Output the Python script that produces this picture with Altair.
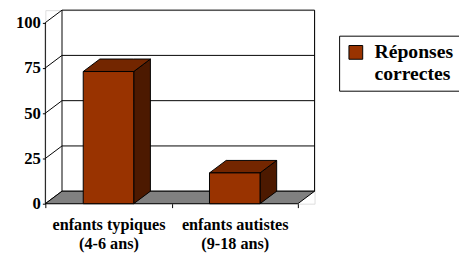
import json
import altair as alt
import pandas as pd

# ---- data ----
cat_line1 = ["enfants typiques", "enfants autistes"]
cat_line2 = ["(4-6 ans)", "(9-18 ans)"]
values = [73, 17]
series_name = "Réponses correctes"
y_ticks = [0, 25, 50, 75, 100]

# ---- 3D geometry constants (style) ----
DX = 0.132      # depth offset in category units
DY = 6.9        # depth offset in value units
BAR_W = 0.4
N = len(values)
XMAX = N + DX
YMAX = 100 + DY

FRONT = "#993300"
TOP = "#732600"
SIDE = "#4c1900"
FONT = "Liberation Serif, DejaVu Serif"

xs = alt.Scale(domain=[0, XMAX], nice=False, zero=False)
ys = alt.Scale(domain=[0, YMAX], nice=False, zero=False)

front = pd.DataFrame({
    "xl": [i + 0.5 - BAR_W / 2 for i in range(N)],
    "xr": [i + 0.5 + BAR_W / 2 for i in range(N)],
    "y0": [0] * N,
    "v": values,
    "series": [series_name] * N,
})

side_rows, top_rows = [], []
for i, v in enumerate(values):
    xl = i + 0.5 - BAR_W / 2
    xr = i + 0.5 + BAR_W / 2
    side_rows += [{"k": i, "x": xr, "y": 0, "y2": v},
                  {"k": i, "x": xr + DX, "y": DY, "y2": v + DY}]
    top_rows += [{"k": i, "x": xl, "y": v, "y2": v},
                 {"k": i, "x": xl + DX, "y": v, "y2": v + DY},
                 {"k": i, "x": xr, "y": v, "y2": v + DY},
                 {"k": i, "x": xr + DX, "y": v + DY, "y2": v + DY}]
side = pd.DataFrame(side_rows)
top = pd.DataFrame(top_rows)

floor = pd.DataFrame([
    {"x": 0, "y": 0, "y2": 0},
    {"x": DX, "y": 0, "y2": DY},
    {"x": N, "y": 0, "y2": DY},
    {"x": XMAX, "y": DY, "y2": DY},
])

diag = pd.DataFrame({"x": [0] * len(y_ticks), "x2": [DX] * len(y_ticks),
                     "y": y_ticks, "y2": [t + DY for t in y_ticks]})
back_h = pd.DataFrame({"x": [DX] * len(y_ticks), "x2": [XMAX] * len(y_ticks),
                       "y": [t + DY for t in y_ticks]})
back_v = pd.DataFrame({"x": [DX, XMAX], "y": [DY, DY], "y2": [YMAX, YMAX]})
front_axis = pd.DataFrame({"x": [0], "y": [0], "y2": [max(y_ticks)]})

expr = ""
for i in range(N):
    expr += f"datum.value === {i + 0.5} ? {json.dumps([cat_line1[i], cat_line2[i]], ensure_ascii=False)} : "
expr += "''"

AX_X = alt.Axis(
    title=None, values=[0, 0.5, 1, 1.5, 2], domain=False, grid=False, tickSize=4,
    tickColor="black",
    tickOpacity={"condition": {"test": "datum.value % 1 === 0", "value": 1}, "value": 0},
    labelExpr=expr, labelFont=FONT, labelFontWeight="bold", labelColor="black",
    labelFontSize=16.5, labelLineHeight=20, labelPadding=9)
AX_Y = alt.Axis(
    title=None, values=y_ticks, domain=False, grid=False, tickSize=3, tickColor="black",
    labelFont=FONT, labelFontWeight="bold", labelColor="black",
    labelFontSize=17, labelPadding=2)

def X(f):
    return alt.X(f, scale=xs, axis=AX_X)

def Y(f):
    return alt.Y(f, scale=ys, axis=AX_Y)

diag_l = alt.Chart(diag).mark_rule(color="black", strokeWidth=1).encode(
    x=X("x:Q"), x2="x2:Q", y=Y("y:Q"), y2="y2:Q")
back_hl = alt.Chart(back_h).mark_rule(color="black", strokeWidth=1).encode(
    x=X("x:Q"), x2="x2:Q", y=Y("y:Q"))
back_vl = alt.Chart(back_v).mark_rule(color="black", strokeWidth=1).encode(
    x=X("x:Q"), y=Y("y:Q"), y2="y2:Q")
front_al = alt.Chart(front_axis).mark_rule(color="black", strokeWidth=1).encode(
    x=X("x:Q"), y=Y("y:Q"), y2="y2:Q")

floor_l = alt.Chart(floor).mark_area(color="#808080", stroke="black", strokeWidth=1,
                                      opacity=1).encode(
    x=X("x:Q"), y=Y("y:Q"), y2="y2:Q")

side_l = alt.Chart(side).mark_area(color=SIDE, stroke="black", strokeWidth=1,
                                    opacity=1).encode(
    x=X("x:Q"), y=Y("y:Q"), y2="y2:Q", detail="k:N")
top_l = alt.Chart(top).mark_area(color=TOP, stroke="black", strokeWidth=1,
                                  opacity=1).encode(
    x=X("x:Q"), y=Y("y:Q"), y2="y2:Q", detail="k:N")

front_l = alt.Chart(front).mark_rect(stroke="black", strokeWidth=1, opacity=1).encode(
    x=X("xl:Q"), x2="xr:Q", y=Y("y0:Q"), y2="v:Q",
    color=alt.Color("series:N", scale=alt.Scale(domain=[series_name], range=[FRONT]),
                    legend=alt.Legend(
                        title=None, orient="none", legendX=299, legendY=26,
                        strokeColor="black", fillColor="white", padding=7,
                        symbolType="square", symbolSize=196, symbolStrokeColor="black",
                        symbolStrokeWidth=1, symbolOpacity=1,
                        labelExpr="split(datum.label, ' ')",
                        labelFont=FONT, labelFontWeight="bold", labelFontSize=20,
                        labelColor="black", labelOffset=9, labelLimit=300)),
)

chart = alt.layer(back_hl, back_vl, diag_l, front_al, floor_l, side_l, top_l, front_l).properties(
    width=274, height=197, autosize="none",
    padding={"left": 38, "top": 0, "right": 147, "bottom": 48},
).configure_view(stroke=None).configure(font=FONT)

chart.save("out.html", embed_options={"renderer": "svg", "actions": False})
